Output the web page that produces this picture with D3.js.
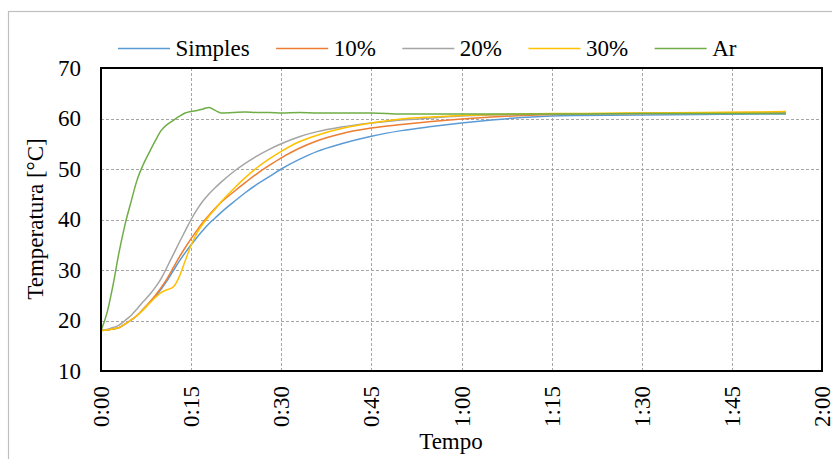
<!DOCTYPE html>
<html>
<head>
<meta charset="utf-8">
<script src="https://cdn.jsdelivr.net/npm/d3@7"></script>
<style>
  html, body { margin: 0; padding: 0; background: #fff; }
  svg { display: block; }
  text { font-family: "Liberation Serif", "Times New Roman", serif; fill: #000; }
</style>
</head>
<body>
<svg id="chart" width="832" height="459"></svg>
<script>
// ---- data (time in minutes, temperature in °C) ----
const times = [0,1,2,3,4,5,6,7,8,9,10,11,12,13,14,15,16,17,18,19,20,22,24,26,28,30,33,36,40,45,50,55,60,65,70,75,80,90,100,110,114];
const simples = [18,18.1,18.3,18.6,19.3,20.1,21.0,22.2,23.4,24.7,26.2,27.9,29.8,31.7,33.4,35.0,36.5,37.9,39.2,40.3,41.4,43.4,45.3,47.0,48.5,50.0,51.9,53.5,55.0,56.5,57.6,58.4,59.1,59.7,60.2,60.5,60.6,60.7,60.8,60.9,60.9];
const p10 = [18,18.1,18.3,18.6,19.3,20.1,21.0,22.2,23.5,24.9,26.5,28.3,30.4,32.5,34.4,36.2,37.9,39.5,40.9,42.2,43.4,45.4,47.3,49.1,50.7,52.2,54.1,55.6,57.0,58.1,58.8,59.4,59.9,60.3,60.6,60.8,60.9,61.0,61.1,61.2,61.2];
const p20 = [18,18.2,18.6,19.1,20.0,21.0,22.3,23.7,25.0,26.5,28.3,30.6,33.0,35.4,37.7,40.0,42.0,43.7,45.1,46.3,47.4,49.4,51.1,52.6,53.9,55.0,56.4,57.4,58.3,59.1,59.7,60.1,60.5,60.7,60.8,60.9,60.9,61.0,61.0,61.1,61.1];
const p30 = [18,18.1,18.3,18.6,19.3,20.1,21.0,22.1,23.3,24.5,25.5,26.1,26.6,28.6,31.8,34.9,37.4,39.2,40.7,42.1,43.5,46.0,48.3,50.3,52.0,53.5,55.4,56.7,58.0,59.1,59.9,60.3,60.6,60.8,60.9,61.0,61.0,61.1,61.2,61.3,61.4];
const ar = [18,21.5,27,33.5,39,43.5,47.8,50.8,53.2,55.5,57.6,58.8,59.6,60.4,61.1,61.4,61.6,61.9,62.2,61.6,61.1,61.2,61.3,61.2,61.2,61.1,61.2,61.1,61.1,61.1,60.9,60.9,60.9,60.9,60.9,60.9,60.9,61.0,61.0,61.0,61.0];

const seriesNames = ["Simples", "10%", "20%", "30%", "Ar"];
const seriesValues = [simples, p10, p20, p30, ar];
const seriesColors = ["#5B9BD5", "#ED7D31", "#A5A5A5", "#FFC000", "#70AD47"];

const yTicks = [10, 20, 30, 40, 50, 60, 70];
const xTicks = [0, 15, 30, 45, 60, 75, 90, 105, 120];
const xTickLabels = ["0:00", "0:15", "0:30", "0:45", "1:00", "1:15", "1:30", "1:45", "2:00"];
const xTitle = "Tempo";
const yTitle = "Temperatura [°C]";

// ---- layout ----
const svg = d3.select("#chart");
const L = 101, R = 822, T = 68, B = 371;
const FS = 23;

const x = d3.scaleLinear().domain([0, 120]).range([L, R]);
const y = d3.scaleLinear().domain([10, 70]).range([B, T]);

// outer chart frame
svg.append("rect").attr("x", 8.5).attr("y", 11.5).attr("width", 900).attr("height", 500)
  .attr("fill", "none").attr("stroke", "#BFBFBF").attr("stroke-width", 1.2);

// grid lines
const grid = svg.append("g");
grid.selectAll("line.h").data(yTicks.filter(d => d > 10 && d < 70)).join("line")
  .attr("x1", L).attr("x2", R).attr("y1", d => Math.round(y(d)) + 0.5).attr("y2", d => Math.round(y(d)) + 0.5)
  .attr("stroke", "#A6A6A6").attr("stroke-width", 1).attr("stroke-dasharray", "3,2");
grid.selectAll("line.v").data(xTicks.filter(d => d > 0 && d < 120)).join("line")
  .attr("x1", d => Math.round(x(d)) + 0.5).attr("x2", d => Math.round(x(d)) + 0.5).attr("y1", T).attr("y2", B)
  .attr("stroke", "#A6A6A6").attr("stroke-width", 1).attr("stroke-dasharray", "3,2");

// series lines
const line = d3.line().x((d, i) => x(times[i])).y(d => y(d)).curve(d3.curveMonotoneX);
svg.append("g").selectAll("path").data(seriesValues).join("path")
  .attr("d", d => line(d))
  .attr("fill", "none")
  .attr("stroke", (d, i) => seriesColors[i])
  .attr("stroke-width", 1.5)
  .attr("stroke-linejoin", "round");

// plot frame
svg.append("rect").attr("x", L).attr("y", T).attr("width", R - L).attr("height", B - T)
  .attr("fill", "none").attr("stroke", "#000").attr("stroke-width", 2);

// y axis labels
const yAxis = d3.axisLeft(y).tickValues(yTicks).tickSize(0).tickPadding(20).tickFormat(d3.format("d"));
const gy = svg.append("g").attr("transform", `translate(${L},0)`).call(yAxis);
gy.select(".domain").remove();
gy.attr("font-family", null);
gy.selectAll("text").attr("font-size", FS).attr("font-family", "Liberation Serif").attr("fill", "#000");

// x axis labels (rotated)
const gx = svg.append("g");
gx.selectAll("text").data(xTicks).join("text")
  .attr("transform", d => `translate(${x(d)},386) rotate(-90)`)
  .attr("text-anchor", "end")
  .attr("dy", "0.35em")
  .attr("font-size", FS)
  .text((d, i) => xTickLabels[i]);

// axis titles
svg.append("text").attr("x", 451).attr("y", 449).attr("text-anchor", "middle")
  .attr("font-size", FS).text(xTitle);
svg.append("text").attr("transform", `translate(43,219) rotate(-90)`).attr("text-anchor", "middle")
  .attr("font-size", FS).text(yTitle);

// legend
const legend = svg.append("g");
let lx = 118;
seriesNames.forEach((name, i) => {
  legend.append("line").attr("x1", lx).attr("x2", lx + 52).attr("y1", 48.5).attr("y2", 48.5)
    .attr("stroke", seriesColors[i]).attr("stroke-width", 1.5);
  const t = legend.append("text").attr("x", lx + 57.5).attr("y", 56).attr("font-size", FS).text(name);
  const w = t.node().getComputedTextLength();
  lx = lx + 57.5 + w + 26.5;
});
</script>
</body>
</html>
